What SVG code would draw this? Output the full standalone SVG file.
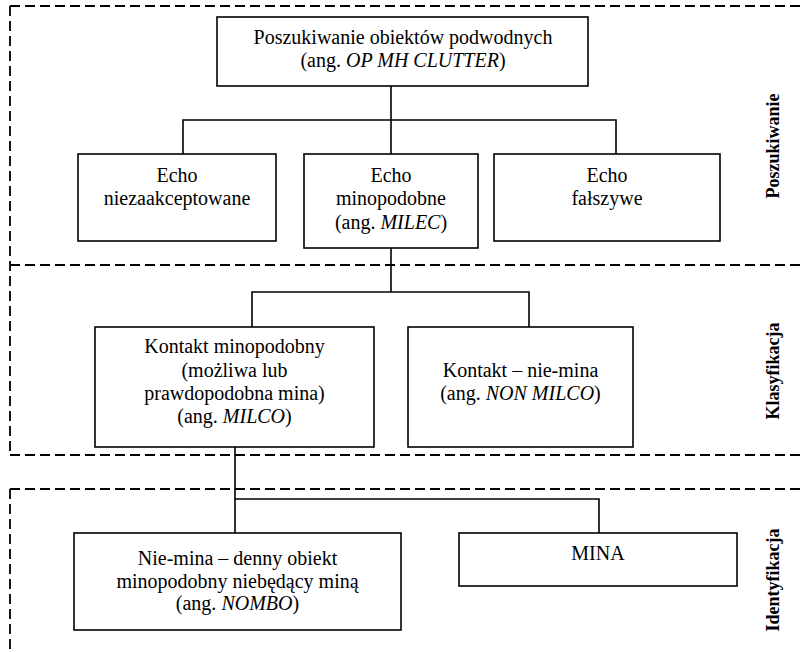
<svg xmlns="http://www.w3.org/2000/svg" width="800" height="652" viewBox="0 0 800 652">
<style>
.box{fill:#fff;stroke:#000;stroke-width:1.6}
.t{font-family:"Liberation Serif","Times New Roman",serif;font-size:20px;fill:#000;text-anchor:middle}
.i{font-style:italic}
.lbl{font-family:"Liberation Serif","Times New Roman",serif;font-size:18px;font-weight:bold;fill:#000;text-anchor:middle}
.dash{fill:none;stroke:#000;stroke-width:1.8;stroke-dasharray:10 5}
.con{fill:none;stroke:#000;stroke-width:1.6}
</style>
<rect width="800" height="652" fill="#fff"/>
<g id="sections">
<path class="dash" d="M10 6 H800"/>
<path class="dash" d="M10 6 V455"/>
<path class="dash" d="M10 265 H800"/>
<path class="dash" d="M10 455 H800"/>
<path class="dash" d="M10 489 H800"/>
<path class="dash" d="M10 489 V652"/>
<text class="lbl" x="779" y="146" transform="rotate(-90 779 146)">Poszukiwanie</text>
<text class="lbl" x="779" y="371" transform="rotate(-90 779 371)">Klasyfikacja</text>
<text class="lbl" x="779" y="580" transform="rotate(-90 779 580)">Identyfikacja</text>
</g>
<g id="connectors">
<path class="con" d="M391 86 V154 M183 154 V120 H616 V154"/>
<path class="con" d="M391 248 V292 M252 327 V292 H529 V327"/>
<path class="con" d="M235 447 V533 M235 499 H599 V533"/>
</g>
<g id="op-mh-clutter">
<rect class="box" x="217" y="17" width="371" height="69"/>
<text class="t" x="403" y="44">Poszukiwanie obiektów podwodnych</text>
<text class="t" x="403" y="67">(ang. <tspan class="i">OP MH CLUTTER</tspan>)</text>
</g>
<g id="echo-niezaakceptowane">
<rect class="box" x="78" y="154" width="198" height="87"/>
<text class="t" x="177" y="182">Echo</text>
<text class="t" x="177" y="205">niezaakceptowane</text>
</g>
<g id="milec">
<rect class="box" x="304" y="154" width="174" height="94"/>
<text class="t" x="391" y="182">Echo</text>
<text class="t" x="391" y="205">minopodobne</text>
<text class="t" x="391" y="229">(ang. <tspan class="i">MILEC</tspan>)</text>
</g>
<g id="echo-falszywe">
<rect class="box" x="494" y="154" width="226" height="87"/>
<text class="t" x="607" y="182">Echo</text>
<text class="t" x="607" y="205">fałszywe</text>
</g>
<g id="milco">
<rect class="box" x="95" y="327" width="279" height="120"/>
<text class="t" x="234.5" y="353">Kontakt minopodobny</text>
<text class="t" x="234.5" y="377">(możliwa lub</text>
<text class="t" x="234.5" y="400">prawdopodobna mina)</text>
<text class="t" x="234.5" y="423">(ang. <tspan class="i">MILCO</tspan>)</text>
</g>
<g id="non-milco">
<rect class="box" x="408" y="327" width="225" height="120"/>
<text class="t" x="520.5" y="377">Kontakt – nie-mina</text>
<text class="t" x="520.5" y="400">(ang. <tspan class="i">NON MILCO</tspan>)</text>
</g>
<g id="nombo">
<rect class="box" x="74" y="533" width="327" height="97"/>
<text class="t" x="237.5" y="565">Nie-mina – denny obiekt</text>
<text class="t" x="237.5" y="588">minopodobny niebędący miną</text>
<text class="t" x="237.5" y="610">(ang. <tspan class="i">NOMBO</tspan>)</text>
</g>
<g id="mina">
<rect class="box" x="459" y="533" width="278" height="53"/>
<text class="t" x="598" y="560">MINA</text>
</g>
</svg>
